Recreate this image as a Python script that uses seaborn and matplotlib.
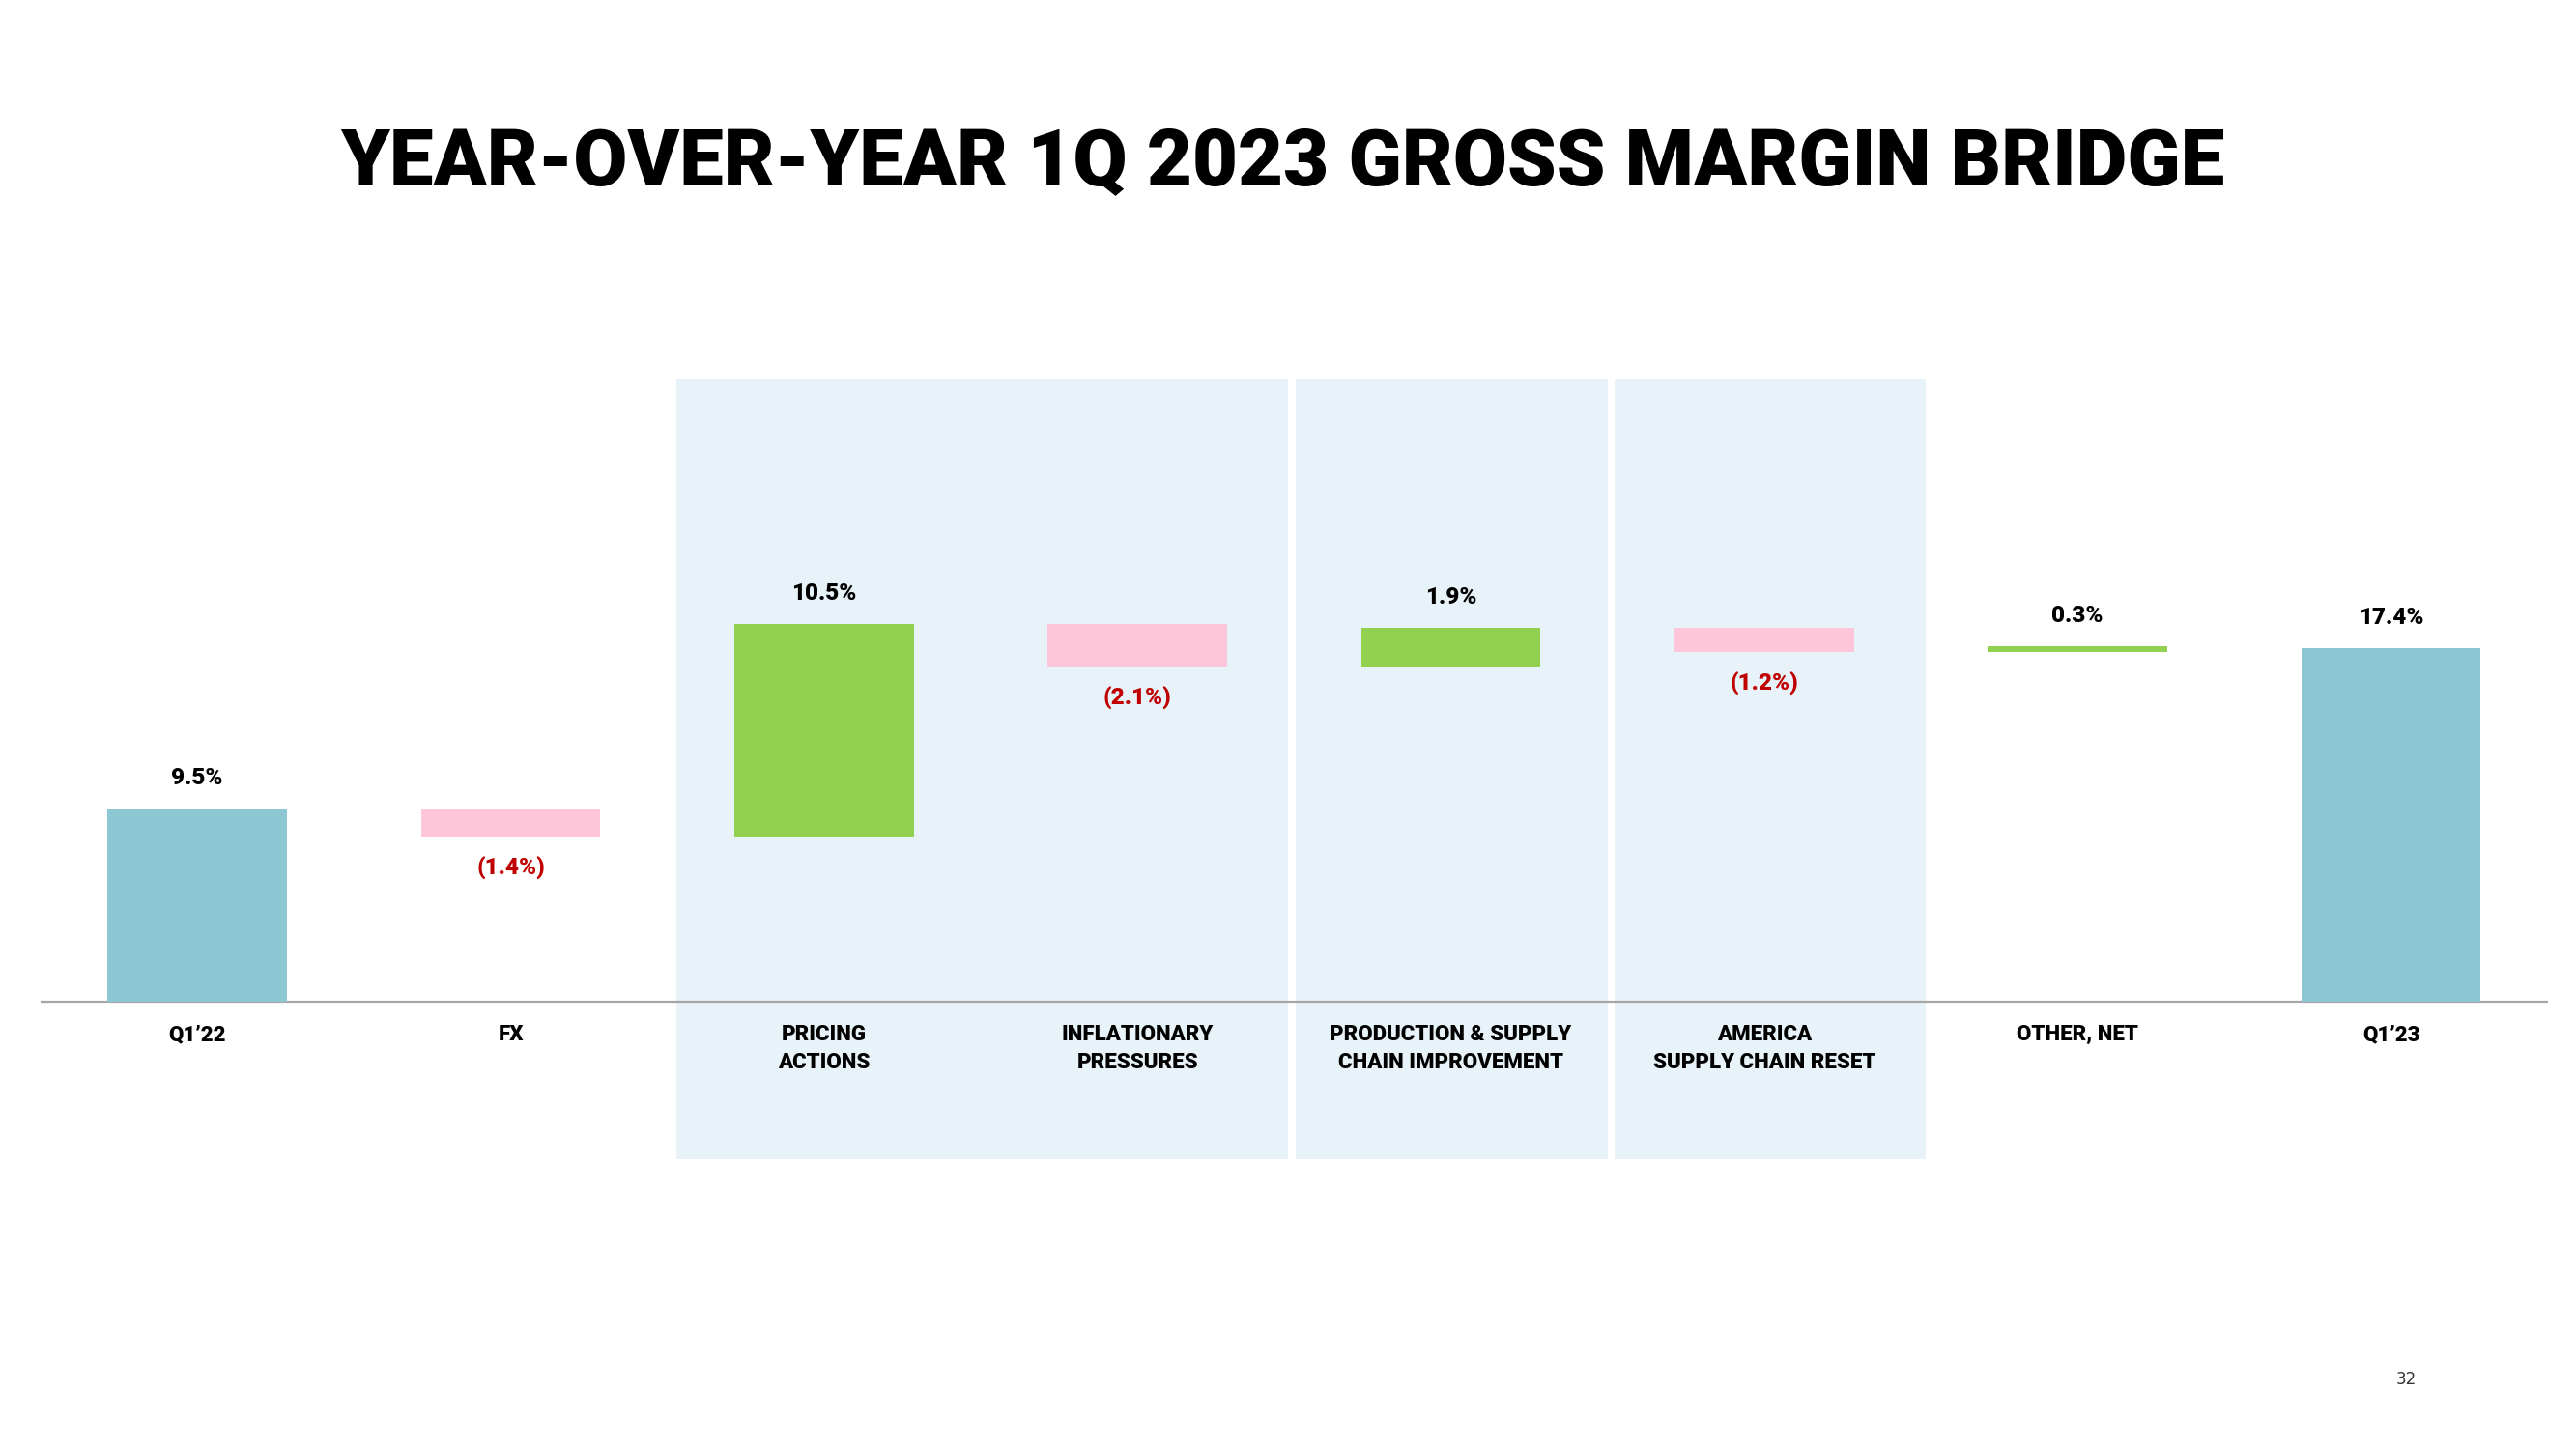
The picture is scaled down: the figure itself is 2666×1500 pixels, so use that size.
import numpy as np
import pandas as pd
import matplotlib
matplotlib.use("Agg")
import matplotlib.pyplot as plt
import seaborn as sns

# ---- data ----
categories = ["Q1’22", "FX", "PRICING\nACTIONS", "INFLATIONARY\nPRESSURES",
              "PRODUCTION & SUPPLY\nCHAIN IMPROVEMENT", "AMERICA\nSUPPLY CHAIN RESET",
              "OTHER, NET", "Q1’23"]
values = [9.5, -1.4, 10.5, -2.1, 1.9, -1.2, 0.3, 17.4]
kinds = ["total", "delta", "delta", "delta", "delta", "delta", "delta", "total"]
value_labels = ["9.5%", "(1.4%)", "10.5%", "(2.1%)", "1.9%", "(1.2%)", "0.3%", "17.4%"]
title = "YEAR-OVER-YEAR 1Q 2023 GROSS MARGIN BRIDGE"
page_number = "32"

# ---- colours ----
C_TOTAL = "#8EC7D4"
C_POS = "#92D050"
C_NEG = "#FFC5D9"
C_NEG_TXT = "#C00000"
C_SHADE = "#E7F3F8"

# waterfall geometry from the values
bottoms, heights, colors = [], [], []
running = 0.0
for v, k in zip(values, kinds):
    if k == "total":
        bottoms.append(0.0); heights.append(v); colors.append(C_TOTAL)
        running = v
    else:
        new = running + v
        bottoms.append(min(running, new)); heights.append(abs(v))
        colors.append(C_POS if v >= 0 else C_NEG)
        running = new

df = pd.DataFrame({"category": categories, "height": heights})

sns.set_theme(style="white")
plt.rcParams["font.family"] = ["Roboto", "DejaVu Sans"]

W, H = 2666, 1500
fig = plt.figure(figsize=(W / 100, H / 100), dpi=100)
fig.patch.set_facecolor("white")

px_per_unit = 21.02
base_px = 1036.7
ylo, yhi = -8.0, 31.0
ax_bottom = (H - base_px) / H + ylo * px_per_unit / H
ax_height = (yhi - ylo) * px_per_unit / H
ax = fig.add_axes([42 / W, ax_bottom, (2636.7 - 42) / W, ax_height])
ax.set_facecolor("none")

# shaded groups
for x0, x1 in [(1.530, 3.481), (3.506, 4.502), (4.524, 5.515)]:
    ax.fill_between([x0, x1], -7.77, 30.67, color=C_SHADE, lw=0, zorder=0)

sns.barplot(data=df, x="category", y="height", bottom=bottoms, width=0.572,
            errorbar=None, ax=ax, zorder=3, linewidth=0, color=C_TOTAL,
            saturation=1)
for p, c in zip(ax.patches, colors):
    p.set_facecolor(c)
    p.set_edgecolor("none")

ax.axhline(0, color="#A6A6A6", lw=1.6, zorder=2)

ax.set_xlim(-0.5, 7.5)
ax.set_ylim(ylo, yhi)
ax.set_xticks([]); ax.set_yticks([])
ax.set_xlabel(""); ax.set_ylabel("")
for s in ax.spines.values():
    s.set_visible(False)

# value labels
for i, (v, k, lab) in enumerate(zip(values, kinds, value_labels)):
    top = bottoms[i] + heights[i]
    if k == "total" or v >= 0:
        ax.text(i, top + 1.5, lab, ha="center", va="center", fontsize=17.5,
                fontweight="black", color="black", zorder=5)
    else:
        ax.text(i, bottoms[i] - 1.55, lab, ha="center", va="center", fontsize=17.5,
                fontweight="black", color=C_NEG_TXT, zorder=5)

# category labels
for i, cat in enumerate(categories):
    ax.text(i, -1.1, cat, ha="center", va="top", fontsize=16, fontweight="black",
            color="black", linespacing=1.4, zorder=5)

# title
t = fig.text(0.498, 0.887, title, ha="center", va="center", fontsize=60,
             fontweight="black", color="black")
fig.canvas.draw()
w = t.get_window_extent().width
t.set_fontsize(60 * 1952 / w)

fig.text(2490 / W, 1 - 1428 / H, page_number, ha="center", va="center",
         fontsize=12, color="#333333", family=["DejaVu Sans"])

fig.savefig("out.png", dpi=100, facecolor="white")
